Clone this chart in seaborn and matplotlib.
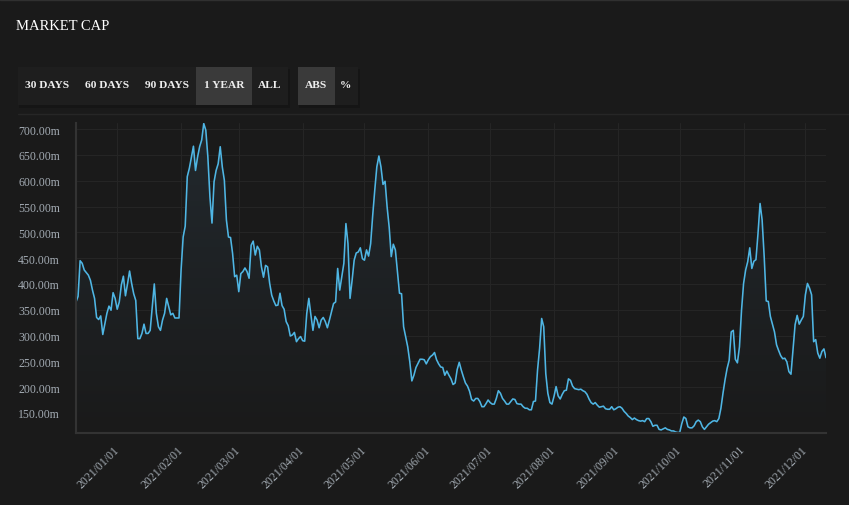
import numpy as np
import pandas as pd
import matplotlib
matplotlib.use("Agg")
import matplotlib.pyplot as plt
import matplotlib.dates as mdates
from matplotlib.patches import Rectangle
from matplotlib.ticker import FuncFormatter
import seaborn as sns

# daily market cap (millions), 2020-12-12 .. 2021-12-11
start_date = "2020-12-12"
end_date = "2021-12-11"
market_cap = [
    365, 376, 445, 440, 427, 422, 417, 407, 388, 372,
    335, 331, 338, 302, 323, 343, 357, 349, 383, 372,
    351, 365, 398, 415, 377, 400, 425, 401, 381, 368,
    294, 294, 304, 322, 304, 304, 310, 356, 400, 343,
    317, 310, 330, 343, 372, 356, 340, 343, 334, 334,
    334, 427, 491, 512, 608, 624, 645, 667, 620, 646,
    666, 679, 711, 698, 646, 569, 518, 598, 620, 633,
    666, 627, 601, 524, 491, 490, 459, 414, 417, 385,
    420, 424, 431, 424, 411, 475, 483, 456, 473, 466,
    433, 413, 436, 433, 401, 378, 367, 358, 359, 382,
    358, 351, 327, 319, 299, 301, 306, 288, 294, 298,
    290, 289, 343, 372, 340, 310, 337, 330, 315, 330,
    335, 327, 315, 330, 346, 362, 365, 430, 388, 414,
    440, 517, 478, 372, 407, 446, 460, 462, 470, 449,
    446, 466, 454, 478, 533, 582, 627, 648, 627, 593,
    599, 549, 510, 453, 477, 466, 424, 382, 381, 317,
    298, 278, 249, 212, 223, 238, 246, 254, 254, 253,
    245, 253, 259, 262, 267, 253, 245, 239, 238, 223,
    231, 223, 216, 205, 208, 234, 248, 233, 220, 208,
    202, 192, 176, 173, 178, 178, 172, 162, 162, 168,
    175, 170, 167, 167, 178, 193, 188, 178, 173, 167,
    167, 172, 177, 176, 168, 167, 167, 162, 159, 159,
    156, 156, 172, 173, 233, 275, 333, 317, 226, 188,
    170, 167, 182, 201, 183, 177, 186, 193, 194, 216,
    213, 202, 197, 196, 195, 196, 193, 191, 186, 177,
    170, 167, 170, 165, 161, 162, 163, 158, 157, 157,
    162, 156, 158, 161, 162, 159, 153, 149, 144, 141,
    137, 140, 137, 135, 134, 135, 133, 139, 139, 133,
    124, 126, 126, 118, 117, 119, 121, 118, 117, 115,
    115, 113, 112, 112, 129, 142, 139, 123, 121, 121,
    125, 133, 136, 133, 123, 118, 123, 128, 131, 134,
    135, 133, 139, 159, 188, 214, 236, 252, 307, 310,
    254, 247, 278, 349, 401, 427, 443, 470, 430, 444,
    447, 498, 556, 524, 453, 367, 366, 337, 322, 307,
    282, 271, 261, 255, 256, 249, 230, 225, 272, 321,
    339, 322, 330, 337, 379, 401, 392, 379, 288, 292,
    266, 256, 269, 274, 257,
]
y_ticks = [150, 200, 250, 300, 350, 400, 450, 500, 550, 600, 650, 700]
month_ticks = pd.date_range("2021-01-01", "2021-12-01", freq="MS")
range_buttons = ["30 DAYS", "60 DAYS", "90 DAYS", "1 YEAR", "ALL"]
mode_buttons = ["ABS", "%"]

df = pd.DataFrame({
    "date": pd.date_range(start_date, end_date, periods=len(market_cap)),
    "cap": market_cap,
})

BG = "#1a1a1a"
LINE = "#4fb6e4"
TICK = "#a3abb3"
GRID = "#252525"
SPINE = "#333333"

sns.set_theme(style="dark", rc={
    "figure.facecolor": BG,
    "axes.facecolor": BG,
    "axes.edgecolor": SPINE,
    "grid.color": GRID,
})
plt.rcParams["font.family"] = ["Liberation Serif", "DejaVu Serif"]

W, H = 849, 506
fig = plt.figure(figsize=(W / 100, H / 100), dpi=100)
ax = fig.add_axes([76 / W, 1 - 434 / H, (826 - 76) / W, (434 - 124) / H])

sns.lineplot(data=df, x="date", y="cap", ax=ax, color=LINE, linewidth=1.15)

# faint gradient fill under the line
ymin, ymax = 111, 712
xs = mdates.date2num(df["date"])
poly = ax.fill_between(xs, df["cap"], ymin, color="none")
grad = np.linspace(0, 1, 256).reshape(-1, 1)
img = ax.imshow(grad, aspect="auto", cmap=matplotlib.colors.LinearSegmentedColormap.from_list(
    "f", [BG, "#22292e"]), origin="lower",
    extent=[xs[0], xs[-1], ymin, ymax], zorder=1)
img.set_clip_path(poly.get_paths()[0], transform=ax.transData)

ax.set_xlim(xs[0], xs[-1])
ax.set_ylim(ymin, ymax)
ax.set_yticks(y_ticks)
ax.yaxis.set_major_formatter(FuncFormatter(lambda v, p: f"{v:.2f}m"))
ax.set_xticks(mdates.date2num(month_ticks))
ax.xaxis.set_major_formatter(mdates.DateFormatter("%Y/%m/%d"))
ax.set_xlabel("")
ax.set_ylabel("")
ax.grid(True, color=GRID, linewidth=0.8)
ax.tick_params(axis="both", direction="inout", length=9, width=1.2, color=SPINE,
               labelcolor=TICK, labelsize=8.5)
ax.tick_params(axis="y", pad=7)
ax.tick_params(axis="x", pad=6)
plt.setp(ax.get_xticklabels(), rotation=45, ha="right", va="center",
         rotation_mode="anchor")
for side in ["top", "right"]:
    ax.spines[side].set_visible(False)
for side in ["left", "bottom"]:
    ax.spines[side].set_color(SPINE)
    ax.spines[side].set_linewidth(1.5)


def px_rect(x0, y0, x1, y1, color, z=0):
    fig.patches.append(Rectangle((x0 / W, 1 - y1 / H), (x1 - x0) / W, (y1 - y0) / H,
                                 transform=fig.transFigure, facecolor=color,
                                 edgecolor="none", zorder=z))


# header
fig.add_artist(plt.Line2D([0, 1], [1 - 0.5 / H] * 2, color="#303030", linewidth=1))
fig.text(16 / W, 1 - 26.5 / H, "MARKET CAP", color="white", fontsize=10.5, va="center")
fig.add_artist(plt.Line2D([18 / W, 1], [1 - 115 / H] * 2, color="#262626", linewidth=1))

# button groups
px_rect(19, 70, 290, 109, "#151515", 1)
px_rect(18, 68, 288, 106, "#1e1e1e", 2)
px_rect(196, 68, 252, 106, "#3a3a3a", 3)
px_rect(299, 70, 360, 109, "#151515", 1)
px_rect(298, 68, 358, 106, "#1e1e1e", 2)
px_rect(298, 68, 335, 106, "#3a3a3a", 3)
range_x = [47, 107, 167, 224, 270]
mode_x = [316, 346]
for lbl, cx in zip(range_buttons, range_x):
    fig.text(cx / W, 1 - 86 / H, lbl, color="#eeeeee", fontsize=8.2, fontweight="bold",
             ha="center", va="center", zorder=5)
for lbl, cx in zip(mode_buttons, mode_x):
    fig.text(cx / W, 1 - 86 / H, lbl, color="#eeeeee", fontsize=8.2, fontweight="bold",
             ha="center", va="center", zorder=5)

fig.savefig("out.png", dpi=100, facecolor=BG)
